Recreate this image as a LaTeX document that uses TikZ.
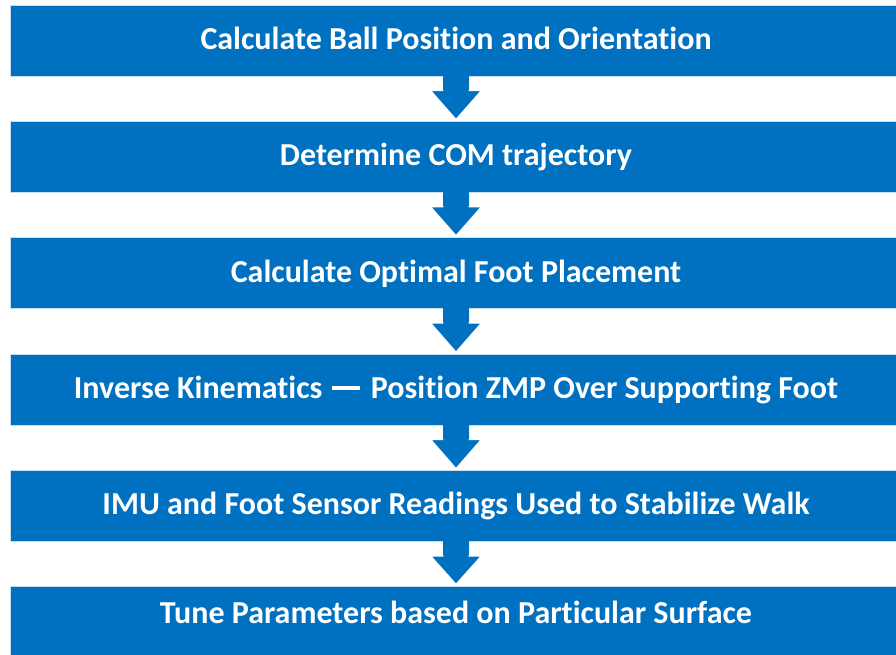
\documentclass[tikz,border=0pt]{standalone}
\usepackage{fontspec}
\setmainfont{Carlito}[Ligatures=NoCommon]
\usetikzlibrary{calc}
\definecolor{boxblue}{HTML}{0070C0}
\definecolor{edgeblue}{HTML}{C9DDF0}
\tikzset{
  stepbox/.style={rectangle, fill=boxblue, draw=edgeblue, line width=0.8pt,
    minimum width=892pt, minimum height=71pt, inner sep=0pt, anchor=north,
    text=white, font=\fontsize{32}{36}\selectfont\bfseries},
  downarrow/.style={fill=boxblue, draw=white, line width=0.8pt}
}
\begin{document}
\begin{tikzpicture}[x=1pt,y=1pt]
\useasboundingbox (0,0) rectangle (896,-655);
\fill[white] (0,0) rectangle (896,-655);
\begin{scope}
\clip (0,0) rectangle (896,-655);
\node[stepbox] (b1) at (456,-5) {\raisebox{5pt}{Calculate Ball Position and Orientation}};
\node[stepbox] (b2) at (456,-121.2) {\raisebox{1pt}{Determine COM trajectory}};
\node[stepbox] (b3) at (456,-237.4) {\raisebox{1pt}{Calculate Optimal Foot Placement}};
\node[stepbox] (b4) at (456,-353.8) {\raisebox{1pt}{Inverse Kinematics\hspace{2pt} {\rule[0.27em]{28pt}{4pt}}\hspace{4pt} Position ZMP Over Supporting Foot}};
\node[stepbox] (b5) at (456,-470.3) {\raisebox{1pt}{IMU and Foot Sensor Readings Used to Stabilize Walk}};
\node[stepbox, minimum height=78pt] (b6) at (456,-586) {\raisebox{26pt}{Tune Parameters based on Particular Surface}};
\foreach \a/\b in {b1/b2,b2/b3,b3/b4,b4/b5,b5/b6}{
  \draw[downarrow] ($(\a.south)+(-13,0.4)$) -- ($(\a.south)+(-13,-14)$) -- ($(\a.south)+(-25,-14)$)
    -- ($(\b.north)+(0,2)$) -- ($(\a.south)+(25,-14)$) -- ($(\a.south)+(13,-14)$) -- ($(\a.south)+(13,0.4)$);
  \fill[boxblue] ($(\a.south)+(-12.6,1.5)$) rectangle ($(\a.south)+(12.6,-13)$);
}
\end{scope}
\end{tikzpicture}
\end{document}
